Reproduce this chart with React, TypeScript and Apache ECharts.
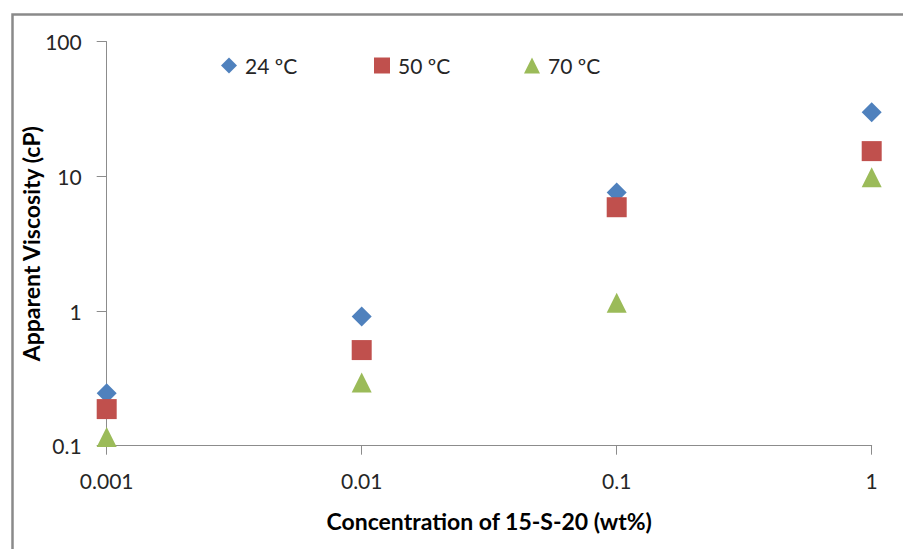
import React, { useEffect, useRef } from "react";
import * as echarts from "echarts";

const concentrations = [0.001, 0.01, 0.1, 1];
const seriesNames = ["24 ºC", "50 ºC", "70 ºC"];
const visc24 = [0.245, 0.91, 7.6, 29.9];
const visc50 = [0.187, 0.513, 5.9, 15.4];
const visc70 = [0.116, 0.295, 1.15, 9.85];
const colors = ["#4F81BD", "#C0504D", "#9BBB59"];
const symbols = ["diamond", "rect", "triangle"];
const xTitle = "Concentration of 15-S-20 (wt%)";
const yTitle = "Apparent Viscosity (cP)";

const FONT = "Lato";

export default function App() {
  const ref = useRef<HTMLDivElement>(null);
  useEffect(() => {
    document.body.style.margin = "0";
    const chart = echarts.init(ref.current!, null, { renderer: "svg" });
    const values = [visc24, visc50, visc70];
    const fmt = (v: number) => String(Number(Number(v).toPrecision(3)));
    const legendLefts = [221, 374, 524];
    chart.setOption({
      animation: false,
      backgroundColor: "#ffffff",
      grid: { left: 106.7, right: 31.3, top: 41.7, bottom: 103.3, containLabel: false },
      legend: seriesNames.map((n, i) => ({
        data: [{ name: n, icon: symbols[i] }],
        left: legendLefts[i],
        top: 55,
        itemWidth: 16,
        itemHeight: 16,
        padding: 0,
        selectedMode: false,
        textStyle: { fontFamily: FONT, fontSize: 21, color: "#262626", padding: [0, 0, 0, 3] },
      })),
      xAxis: {
        type: "log",
        logBase: 10,
        min: 0.001,
        max: 1,
        name: xTitle,
        nameLocation: "middle",
        nameGap: 64,
        nameTextStyle: { fontFamily: FONT, fontSize: 23, fontWeight: "bold", color: "#000" },
        axisLine: { show: true, lineStyle: { color: "#8c8c8c", width: 1 } },
        axisTick: { show: true, inside: false, length: 9, lineStyle: { color: "#8c8c8c" } },
        minorTick: { show: false },
        splitLine: { show: false },
        axisLabel: { margin: 24, fontFamily: FONT, fontSize: 21, color: "#262626", formatter: fmt },
      },
      yAxis: {
        type: "log",
        logBase: 10,
        min: 0.1,
        max: 100,
        axisLine: { show: true, lineStyle: { color: "#8c8c8c", width: 1 } },
        axisTick: { show: true, inside: false, length: 10, lineStyle: { color: "#8c8c8c" } },
        splitLine: { show: false },
        axisLabel: { margin: 25, fontFamily: FONT, fontSize: 21, color: "#262626", formatter: fmt },
      },
      graphic: [
        {
          type: "rect",
          left: 10,
          top: 12,
          shape: { x: 0, y: 0, width: 1000, height: 700 },
          style: { fill: "none", stroke: "#8a8a8a", lineWidth: 2.5 },
          silent: true,
          z: -1,
        },
        {
          type: "text",
          x: 31,
          y: 243.7,
          rotation: Math.PI / 2,
          silent: true,
          style: {
            text: yTitle,
            fontFamily: FONT,
            fontSize: 23,
            fontWeight: "bold",
            fill: "#000",
            align: "center",
            verticalAlign: "middle",
          },
        },
      ],
      series: seriesNames.map((n, i) => ({
        name: n,
        type: "scatter",
        symbol: symbols[i],
        symbolSize: 20,
        clip: false,
        itemStyle: { color: colors[i], opacity: 1 },
        data: concentrations.map((c, j) => [c, values[i][j]]),
      })),
    });
    return () => chart.dispose();
  }, []);
  return <div ref={ref} style={{ width: 903, height: 549 }} />;
}
